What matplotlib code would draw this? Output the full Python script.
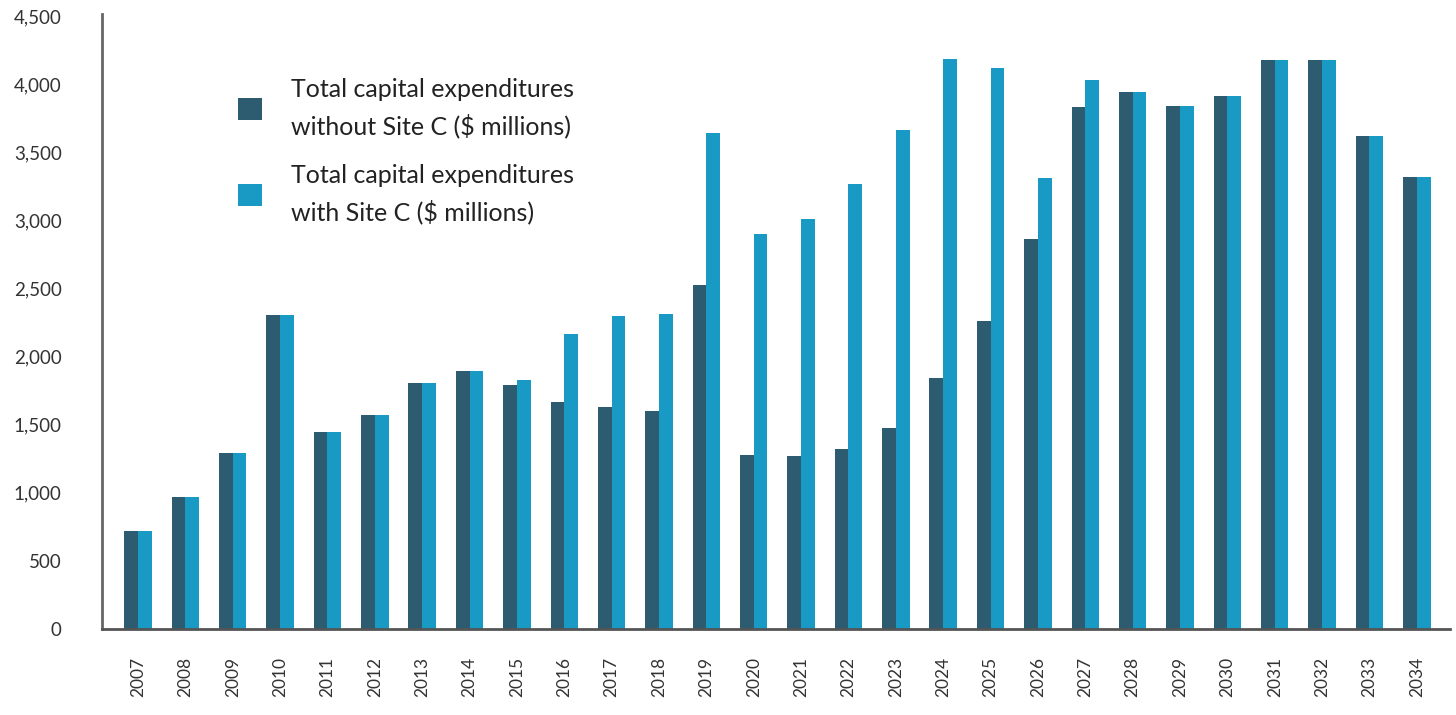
import matplotlib
matplotlib.use("Agg")
import matplotlib.pyplot as plt
import numpy as np

years = ["2007", "2008", "2009", "2010", "2011", "2012", "2013", "2014", "2015", "2016",
         "2017", "2018", "2019", "2020", "2021", "2022", "2023", "2024", "2025", "2026",
         "2027", "2028", "2029", "2030", "2031", "2032", "2033", "2034"]
without_site_c = [720, 970, 1290, 2305, 1445, 1570, 1805, 1895, 1790, 1665,
                  1630, 1600, 2525, 1280, 1270, 1320, 1475, 1845, 2260, 2865,
                  3830, 3940, 3840, 3910, 4180, 4180, 3620, 3315]
with_site_c = [720, 970, 1290, 2305, 1445, 1570, 1805, 1895, 1825, 2165,
               2295, 2310, 3640, 2900, 3010, 3265, 3665, 4185, 4115, 3310,
               4030, 3940, 3840, 3910, 4180, 4180, 3620, 3315]
yticks = [0, 500, 1000, 1500, 2000, 2500, 3000, 3500, 4000, 4500]
label_without = "Total capital expenditures\nwithout Site C ($ millions)"
label_with = "Total capital expenditures\nwith Site C ($ millions)"

plt.rcParams['font.family'] = ['Lato', 'DejaVu Sans']

fig = plt.figure(figsize=(14.56, 7.15), dpi=100)
ax = fig.add_axes([102/1456, 1 - 629/715, (1450-102)/1456, (629-14)/715])

x = np.arange(len(years))
w = 0.29
dark = "#2d5c71"
light = "#189ac5"
b1 = ax.bar(x - w/2, without_site_c, width=w, color=dark, label=label_without)
b2 = ax.bar(x + w/2, with_site_c, width=w, color=light, label=label_with)

ax.set_xlim(-0.76, len(years) - 1 + 0.70)
ax.set_ylim(0, 4515)
ax.set_yticks(yticks)
ax.set_yticklabels([f"{v:,}" for v in yticks], fontsize=13.5, color="#333333")
ax.set_xticks(x)
ax.set_xticklabels(years, rotation=90, fontsize=12.5, color="#333333")
ax.tick_params(axis='both', length=0)
ax.tick_params(axis='y', pad=29)
ax.tick_params(axis='x', pad=20)

for s in ["top", "right"]:
    ax.spines[s].set_visible(False)
ax.spines["left"].set_color("#666666")
ax.spines["left"].set_linewidth(2)
ax.spines["bottom"].set_color("#555555")
ax.spines["bottom"].set_linewidth(2)

leg = ax.legend(handles=[b1, b2], loc="upper left",
                bbox_to_anchor=(238/1456, 1 - 78/715), bbox_transform=fig.transFigure,
                frameon=False, fontsize=18, handlelength=0.96, handleheight=0.96,
                handletextpad=1.16, labelspacing=1.05, borderpad=0, borderaxespad=0)
for t in leg.get_texts():
    t.set_color("#222222")
    t.set_linespacing(1.6)

fig.savefig("out.png", dpi=100)
